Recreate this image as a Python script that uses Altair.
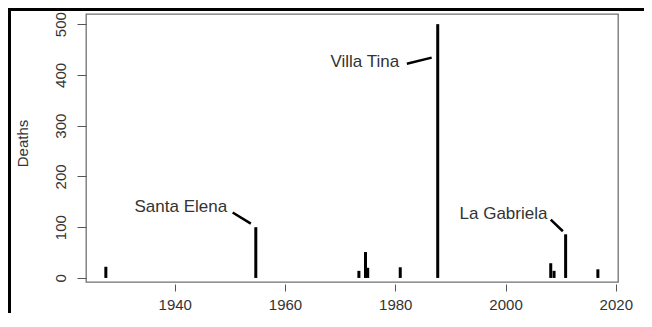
import altair as alt
import pandas as pd

# Event data (year, deaths)
years = [1927.5, 1954.7, 1973.4, 1974.6, 1975.0, 1980.9, 1987.7, 2008.2, 2008.8, 2010.9, 2016.75]
deaths = [22, 100, 14, 51, 20, 21, 500, 29, 14, 86, 17]

# Annotations
labels = ["Santa Elena", "Villa Tina", "La Gabriela"]
label_x = [1949.5, 1980.7, 2007.6]
label_y = [140, 425, 126]
lead_x1 = [1950.5, 1982.1, 2008.2]
lead_y1 = [129, 422, 115]
lead_x2 = [1953.8, 1986.6, 2010.4]
lead_y2 = [107, 434, 92]

x_ticks = [1940, 1960, 1980, 2000, 2020]
y_ticks = [0, 100, 200, 300, 400, 500]

FONT = "Liberation Sans"
TXT = "#333333"

bars_df = pd.DataFrame({"year": years, "deaths": deaths})
ann_df = pd.DataFrame({"label": labels, "lx": label_x, "ly": label_y,
                       "x1": lead_x1, "y1": lead_y1, "x2": lead_x2, "y2": lead_y2})

xscale = alt.Scale(domain=[1923.9, 2020.4], nice=False, zero=False)
yscale = alt.Scale(domain=[-8, 520], nice=False, zero=False)

xaxis = alt.Axis(values=x_ticks, format="d", grid=False, domain=False, tickSize=7,
                 offset=2, labelPadding=6, labelFontSize=15, labelFont=FONT,
                 labelColor=TXT, tickColor="#555555", labelFlush=False, title=None)
yaxis = alt.Axis(values=y_ticks, grid=False, domain=False, tickSize=9,
                 labelAngle=270, labelAlign="center", labelBaseline="middle",
                 labelPadding=17, labelFontSize=15, labelFont=FONT, labelColor=TXT,
                 tickColor="#555555", title="Deaths", titleAngle=270, titleX=-64,
                 titleY=129, titleAlign="center", titleBaseline="middle",
                 titleFontSize=15, titleFont=FONT, titleFontWeight="normal",
                 titleColor=TXT)

bars = alt.Chart(bars_df).mark_rule(color="black", strokeWidth=3).encode(
    x=alt.X("year:Q", scale=xscale, axis=xaxis),
    y=alt.Y("deaths:Q", scale=yscale, axis=yaxis),
    y2=alt.datum(0),
)

leads = alt.Chart(ann_df).mark_rule(color="black", strokeWidth=2.5).encode(
    x=alt.X("x1:Q", scale=xscale),
    y=alt.Y("y1:Q", scale=yscale),
    x2="x2:Q",
    y2="y2:Q",
)

texts = alt.Chart(ann_df).mark_text(align="right", baseline="middle", fontSize=17,
                                    font=FONT, color=TXT).encode(
    x=alt.X("lx:Q", scale=xscale),
    y=alt.Y("ly:Q", scale=yscale),
    text="label:N",
)

one = pd.DataFrame({"a": [0]})
border_left = alt.Chart(one).mark_rect(color="black").encode(
    x=alt.value(-78), x2=alt.value(-75), y=alt.value(-6), y2=alt.value(320))
border_top = alt.Chart(one).mark_rect(color="black").encode(
    x=alt.value(-78), x2=alt.value(570), y=alt.value(-6), y2=alt.value(-3))

chart = alt.layer(bars, leads, texts, border_left, border_top).properties(
    width=532, height=268,
    autosize=alt.AutoSizeParams(type="none"),
    padding={"left": 78, "top": 6, "right": 26, "bottom": 31},
    background="white",
).configure_view(stroke="#707070", strokeWidth=1.3)

chart.save("out.html", embed_options={"renderer": "svg", "actions": False})
